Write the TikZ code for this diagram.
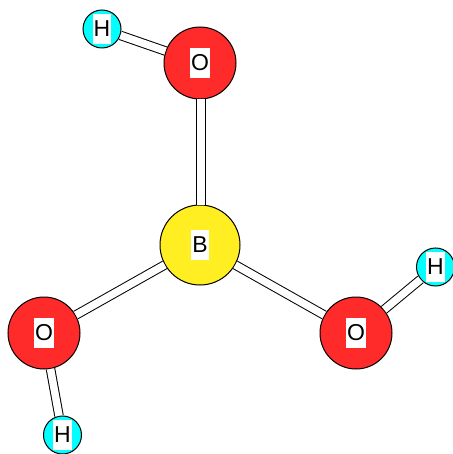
\documentclass[tikz,border=0pt]{standalone}
\usepackage{fontspec}
\setmainfont{Liberation Sans}
\definecolor{oxygen}{RGB}{255,42,42}
\definecolor{boron}{RGB}{255,238,34}
\definecolor{hydrogen}{RGB}{0,255,255}
\tikzstyle{atom}=[circle,draw=black,line width=1pt,inner sep=0pt]
\tikzstyle{letter}=[fill=white,inner xsep=1pt,inner ysep=0pt,minimum height=30pt,font=\fontsize{23}{25}\selectfont]
\tikzstyle{atomb}=[atom,fill=boron,minimum size=80pt,label={[letter]center:B}]
\tikzstyle{atomo}=[atom,fill=oxygen,minimum size=72pt,label={[letter]center:O}]
\tikzstyle{atomh}=[atom,fill=hydrogen,minimum size=38pt,label={[letter]center:H}]
\tikzstyle{bond}=[line width=1pt,double=white,double distance=7.5pt]

\begin{document}
\begin{tikzpicture}[x=1pt,y=1pt]
\useasboundingbox(0,0)rectangle(452,-454);
\node(boron)[atomb]at(200,-245){};
\node(otop)[atomo]at(200,-63){};
\node(oleft)[atomo]at(44,-333){};
\node(oright)[atomo]at(356,-333){};
\node(htop)[atomh]at(102,-29){};
\node(hleft)[atomh]at(62.5,-435){};
\node(hright)[atomh]at(435.5,-267){};
\draw[bond]([xshift=1pt]boron.north)--([xshift=1pt]otop.south);
\draw[bond](boron)--(oleft);
\draw[bond](boron)--(oright);
\draw[bond](otop)--(htop);
\draw[bond](oleft)--(hleft);
\draw[bond](oright)--(hright);
\end{tikzpicture}
\end{document}
